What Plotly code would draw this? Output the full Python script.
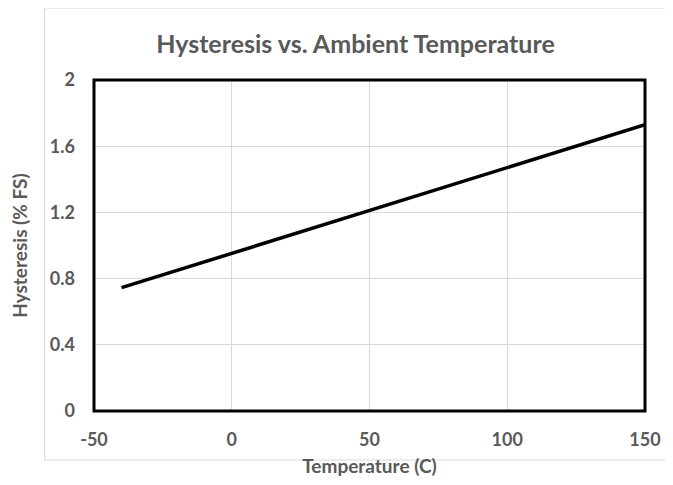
import plotly.graph_objects as go

temperature = [-40, 0, 50, 100, 150]
hysteresis = [0.745, 0.952, 1.211, 1.47, 1.73]

x_ticks = [-50, 0, 50, 100, 150]
y_ticks = [0, 0.4, 0.8, 1.2, 1.6, 2]
y_tick_text = ["0", "0.4", "0.8", "1.2", "1.6", "2"]

gray = "#595959"
font_family = "Lato, 'Open Sans', sans-serif"

fig = go.Figure()
fig.add_trace(go.Scatter(
    x=temperature, y=hysteresis, mode="lines",
    line=dict(color="black", width=3.5), showlegend=False, hoverinfo="skip"))

fig.update_layout(
    width=665, height=477,
    margin=dict(l=85, r=22, t=72, b=74),
    paper_bgcolor="white", plot_bgcolor="white",
    title=dict(text="Hysteresis vs. Ambient Temperature", x=0.5226, xanchor="center",
               y=0.9245, yanchor="middle",
               font=dict(family=font_family, size=25, color=gray, weight="bold")),
    xaxis=dict(range=[-50, 150], tickvals=x_ticks, ticktext=[str(v) for v in x_ticks],
               showgrid=True, gridcolor="#d9d9d9", gridwidth=1, zeroline=False,
               showline=False, ticks="", ticklabelstandoff=16,
               tickfont=dict(family=font_family, size=18, color=gray, weight="bold"),
               title=dict(text="Temperature (C)", standoff=10,
                          font=dict(family=font_family, size=19, color=gray, weight="bold"))),
    yaxis=dict(range=[0, 2], tickvals=y_ticks, ticktext=y_tick_text,
               showgrid=True, gridcolor="#d9d9d9", gridwidth=1, zeroline=False,
               showline=False, ticks="", ticklabelstandoff=18,
               tickfont=dict(family=font_family, size=18, color=gray, weight="bold"),
               title=dict(text="Hysteresis (% FS)", standoff=17,
                          font=dict(family=font_family, size=19, color=gray, weight="bold"))),
    shapes=[
        dict(type="rect", xref="paper", yref="paper", x0=-0.0896, x1=1.06, y0=-0.148, y1=1.2175,
             line=dict(color="#d9d9d9", width=1), layer="below"),
        dict(type="rect", xref="paper", yref="paper", x0=0, x1=1, y0=0, y1=1,
             line=dict(color="black", width=3), layer="above"),
    ],
)

fig.write_html("out.html")
